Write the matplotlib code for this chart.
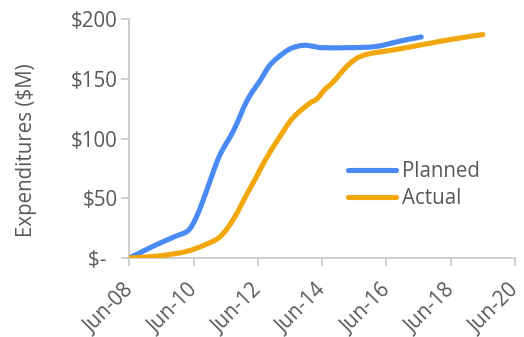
import matplotlib
matplotlib.use("Agg")
import matplotlib.pyplot as plt
import matplotlib.dates as mdates
import matplotlib.transforms as mtransforms
from matplotlib.path import Path
from matplotlib.patches import PathPatch
from matplotlib.lines import Line2D
import numpy as np
import pandas as pd

planned_dates = ["2008-06", "2008-12", "2009-05", "2009-11", "2010-04", "2010-07",
                 "2010-10", "2011-01", "2011-04", "2011-09", "2012-02", "2012-07",
                 "2012-10", "2013-01", "2013-06", "2013-11", "2014-03", "2014-06",
                 "2015-04", "2016-02", "2016-11", "2017-07"]
planned_values = [0, 6.7, 12, 18, 23, 34, 51, 70, 87, 107, 132, 149,
                  160, 167, 175, 178, 177, 176, 176, 177, 181.5, 185]

actual_dates = ["2008-06", "2009-05", "2010-03", "2010-10", "2011-04", "2011-09",
                "2012-02", "2012-05", "2012-09", "2013-02", "2013-07", "2014-01",
                "2014-04", "2014-07", "2014-10", "2015-04", "2015-10", "2016-11",
                "2018-05", "2019-06"]
actual_values = [0, 1.7, 5.3, 10.8, 18, 33, 54, 66, 83, 101, 117, 129,
                 133, 141, 147, 162, 170, 175, 182.5, 187]

x_ticks = ["2008-06", "2010-06", "2012-06", "2014-06", "2016-06", "2018-06", "2020-06"]
y_ticks = [0, 50, 100, 150, 200]
y_tick_labels = ["$-  ", "$50", "$100", "$150", "$200"]

plt.rcParams['font.family'] = ['Open Sans', 'DejaVu Sans']
grey = "#595959"
axis_grey = "#cccccc"
blue = "#4A8AF4"
orange = "#F2A80C"
fs = 14.8


def smooth_path(xs, ys):
    pts = np.column_stack([xs, ys]).astype(float)
    n = len(pts)
    verts = [pts[0]]
    codes = [Path.MOVETO]
    for i in range(n - 1):
        p0 = pts[i - 1] if i > 0 else pts[i]
        p1 = pts[i]
        p2 = pts[i + 1]
        p3 = pts[i + 2] if i + 2 < n else pts[i + 1]
        c1 = p1 + (p2 - p0) / 6.0
        c2 = p2 - (p3 - p1) / 6.0
        verts += [c1, c2, p2]
        codes += [Path.CURVE4] * 3
    return Path(verts, codes)


fig = plt.figure(figsize=(5.24, 3.37), dpi=100)
ax = fig.add_axes([0.2468, 0.2344, 0.7360, 0.7092])

for dates, vals, col in [(planned_dates, planned_values, blue),
                         (actual_dates, actual_values, orange)]:
    xnum = mdates.date2num(pd.to_datetime(dates))
    patch = PathPatch(smooth_path(xnum, vals), facecolor="none", edgecolor=col,
                      lw=3.7, capstyle="round", joinstyle="round", zorder=3)
    ax.add_patch(patch)

xt = pd.to_datetime(x_ticks)
ax.set_xlim(xt[0], xt[-1])
ax.set_xticks(xt)
ax.xaxis.set_major_formatter(mdates.DateFormatter("%b-%y"))
ax.set_ylim(0, 200)
ax.set_yticks(y_ticks)
ax.set_yticklabels(y_tick_labels)

for s in ["top", "right"]:
    ax.spines[s].set_visible(False)
for s in ["left", "bottom"]:
    ax.spines[s].set_color(axis_grey)
    ax.spines[s].set_linewidth(1.3)
ax.tick_params(axis="both", colors=axis_grey, length=5.5, width=1.3, labelcolor=grey,
               labelsize=fs)
ax.tick_params(axis="y", pad=3)
ax.tick_params(axis="x", pad=15.5)
offset = mtransforms.ScaledTranslation(1 / 100, 0, fig.dpi_scale_trans)
for lab in ax.get_xticklabels():
    lab.set_rotation(45)
    lab.set_ha("right")
    lab.set_va("center")
    lab.set_rotation_mode("anchor")
    lab.set_transform(lab.get_transform() + offset)

ax.set_ylabel("Expenditures ($M)", color=grey, fontsize=fs)
ax.yaxis.set_label_coords(-0.239, 0.45)

handles = [Line2D([], [], color=blue, lw=3.7, solid_capstyle="round"),
           Line2D([], [], color=orange, lw=3.7, solid_capstyle="round")]
leg = ax.legend(handles, ["Planned", "Actual"], loc="upper left",
                bbox_to_anchor=(0.566, 0.405), frameon=False, fontsize=fs,
                handlelength=2.33, handletextpad=0.3, labelspacing=0.3,
                borderpad=0, borderaxespad=0, labelcolor=grey)

fig.savefig("out.png", dpi=100)
